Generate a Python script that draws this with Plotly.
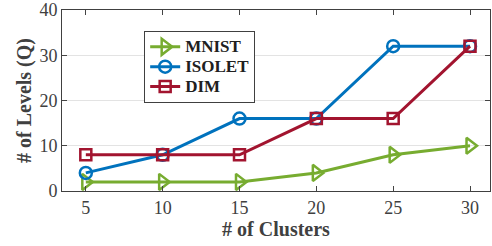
import plotly.graph_objects as go

clusters = [5, 10, 15, 20, 25, 30]
mnist = [2, 2, 2, 4, 8, 10]
isolet = [4, 8, 16, 16, 32, 32]
dim = [8, 8, 8, 16, 16, 32]
x_ticks = [5, 10, 15, 20, 25, 30]
y_ticks = [0, 10, 20, 30, 40]
names = ["MNIST", "ISOLET", "DIM"]

font = "Liberation Serif, Times New Roman, serif"

def lg(name):
    return '<span style="font-size:17px"><b>%s</b></span>' % name

fig = go.Figure()
fig.add_trace(go.Scatter(x=clusters, y=mnist, name=lg(names[0]), mode="lines+markers",
                         line=dict(color="#77AC30", width=3),
                         marker=dict(symbol="triangle-right-open", size=14, line=dict(width=2.5, color="#77AC30"))))
fig.add_trace(go.Scatter(x=clusters, y=isolet, name=lg(names[1]), mode="lines+markers",
                         line=dict(color="#0072BD", width=3),
                         marker=dict(symbol="circle-open", size=12, line=dict(width=2.5, color="#0072BD"))))
fig.add_trace(go.Scatter(x=clusters, y=dim, name=lg(names[2]), mode="lines+markers",
                         line=dict(color="#A2142F", width=3),
                         marker=dict(symbol="square-open", size=11, line=dict(width=2.5, color="#A2142F"))))

fig.update_layout(
    width=492, height=246,
    margin=dict(l=62, r=2, t=10, b=55),
    plot_bgcolor="white", paper_bgcolor="white",
    font=dict(family=font, size=16, color="#404040"),
    showlegend=True,
    legend=dict(x=0.192, y=0.885, xanchor="left", yanchor="top",
                bgcolor="white", bordercolor="#404040", borderwidth=1,
                font=dict(family=font, size=13, color="#202020"),
                tracegroupgap=0, itemwidth=30),
)
fig.update_xaxes(range=[3.45, 31.3], tickvals=x_ticks, ticks="inside", ticklen=5,
                 showline=True, linecolor="#404040", linewidth=1, mirror="ticks",
                 showgrid=False, zeroline=False, automargin=False,
                 tickfont=dict(family=font, size=18, color="#404040"),
                 tickprefix="<b>", ticksuffix="</b>",
                 title=dict(text="<b># of Clusters</b>", font=dict(family=font, size=20, color="#404040"), standoff=4))
fig.update_yaxes(range=[0, 40], tickvals=y_ticks, ticks="inside", ticklen=5,
                 showline=True, linecolor="#404040", linewidth=1, mirror="ticks",
                 showgrid=True, gridcolor="#E3E3E3", zeroline=False, automargin=False,
                 tickfont=dict(family=font, size=18, color="#404040"),
                 tickprefix="<b>", ticksuffix="</b>",
                 title=dict(text="<b># of Levels (Q)</b>", font=dict(family=font, size=20, color="#404040"), standoff=2))
fig.write_html("out.html", config={"displayModeBar": False},
               post_script="document.body.style.margin='0';")
